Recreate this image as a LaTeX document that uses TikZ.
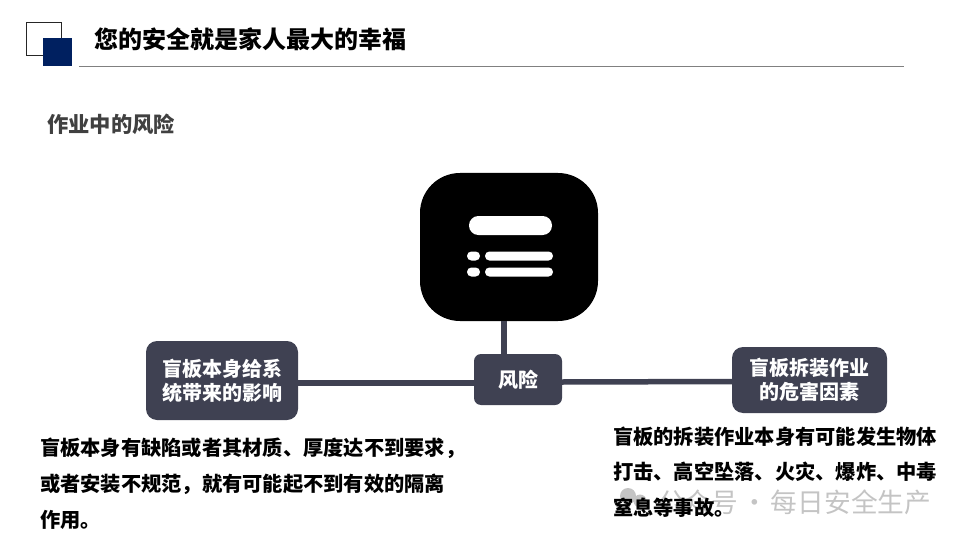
\documentclass[tikz,border=0pt]{standalone}
\usepackage{fontspec}
\setmainfont{Noto Sans CJK SC}
\newfontfamily\markfont{Noto Sans CJK SC}
\usetikzlibrary{positioning}
\definecolor{Slate}{HTML}{3F4152}
\definecolor{Navy}{HTML}{002060}
\definecolor{Rule}{HTML}{808080}
\definecolor{Sub}{HTML}{404040}
\definecolor{Mark}{HTML}{C4C4C4}
\begin{document}
\begin{tikzpicture}[x=1pt,y=-1pt,
box/.style={fill=Slate,text=white,inner sep=0pt,align=center,font=\fontsize{20}{24}\selectfont\bfseries},
body/.style={anchor=north west,inner sep=0pt,align=left,text=black,font=\fontsize{20.25}{36}\selectfont\bfseries},
bar/.style={fill=white,inner sep=0pt,minimum height=9pt,rounded corners=4.4pt},
link/.style={draw=Slate,line width=5.5pt}]
\useasboundingbox (0,0) rectangle (960,540);
% header
\node[draw=black!85,line width=1pt,minimum width=35pt,minimum height=33pt,inner sep=0pt] (frame) at (44,39) {};
\node[fill=Navy,minimum width=29pt,minimum height=28pt,inner sep=0pt] (mark) at (57.5,52) {};
\coordinate (ruleL) at (79,66.5);
\coordinate (ruleR) at (904,66.5);
\draw[Rule,line width=1pt] (ruleL) -- (ruleR);
\node[anchor=west,inner sep=0pt,font=\fontsize{24}{28}\selectfont\bfseries] (title) at (94.5,39) {您的安全就是家人最大的幸福};
\node[anchor=west,inner sep=0pt,text=Sub,font=\fontsize{21.3}{26}\selectfont\bfseries] (sub) at (47,124) {作业中的风险};
% watermark
\fill[Mark] (628,496) circle (8pt) (640,501) circle (6.5pt);
\node[anchor=west,inner sep=0pt,text=Mark,font=\fontsize{26.7}{30}\markfont] (wm) at (658,502) {公众号\hspace{-3pt} · \hspace{-3pt}每日安全生产};
% icon
\node[fill=black,minimum width=178pt,minimum height=148pt,rounded corners=40pt,inner sep=0pt] (icon) at (509,247) {};
\node[bar,minimum width=83pt,minimum height=19pt,rounded corners=9.4pt] (head) at (510.5,225.5) {};
\node[bar,minimum width=13pt] (dotA) at (473.5,256) {};
\node[bar,minimum width=13pt] (dotB) at (473.5,272) {};
\node[bar,minimum width=68pt] (lineA) at (519,256) {};
\node[bar,minimum width=68pt] (lineB) at (519,272) {};
% boxes
\node[box,minimum width=88pt,minimum height=51pt,rounded corners=7pt] (risk) at (518,379.5) {风险};
\node[box,minimum width=152pt,minimum height=79pt,rounded corners=11pt] (effect) at (222,380.5) {盲板本身给系\\统带来的影响};
\node[box,minimum width=155pt,minimum height=66pt,rounded corners=11pt] (hazard) at (809.5,380) {盲板拆装作业\\的危害因素};
\draw[link] ([xshift=-5pt]icon.south) -- ([xshift=-14pt]risk.north);
\draw[link] ([yshift=-2.5pt]effect.east) -- ([yshift=-3.5pt]risk.west);
\draw[link] ([yshift=-2.5pt]risk.east) -- ([yshift=-1.5pt]hazard.west);
% text
\node[body] (leftnote) at (40,437.5) {盲板本身有缺陷或者其材质、厚度达不到要求，\\或者安装不规范，就有可能起不到有效的隔离\\作用。};
\node[body,font=\fontsize{20.25}{35.5}\selectfont\bfseries] (rightnote) at (613,426.5) {盲板的拆装作业本身有可能发生物体\\打击、高空坠落、火灾、爆炸、中毒\\窒息等事故。};
\end{tikzpicture}
\end{document}
